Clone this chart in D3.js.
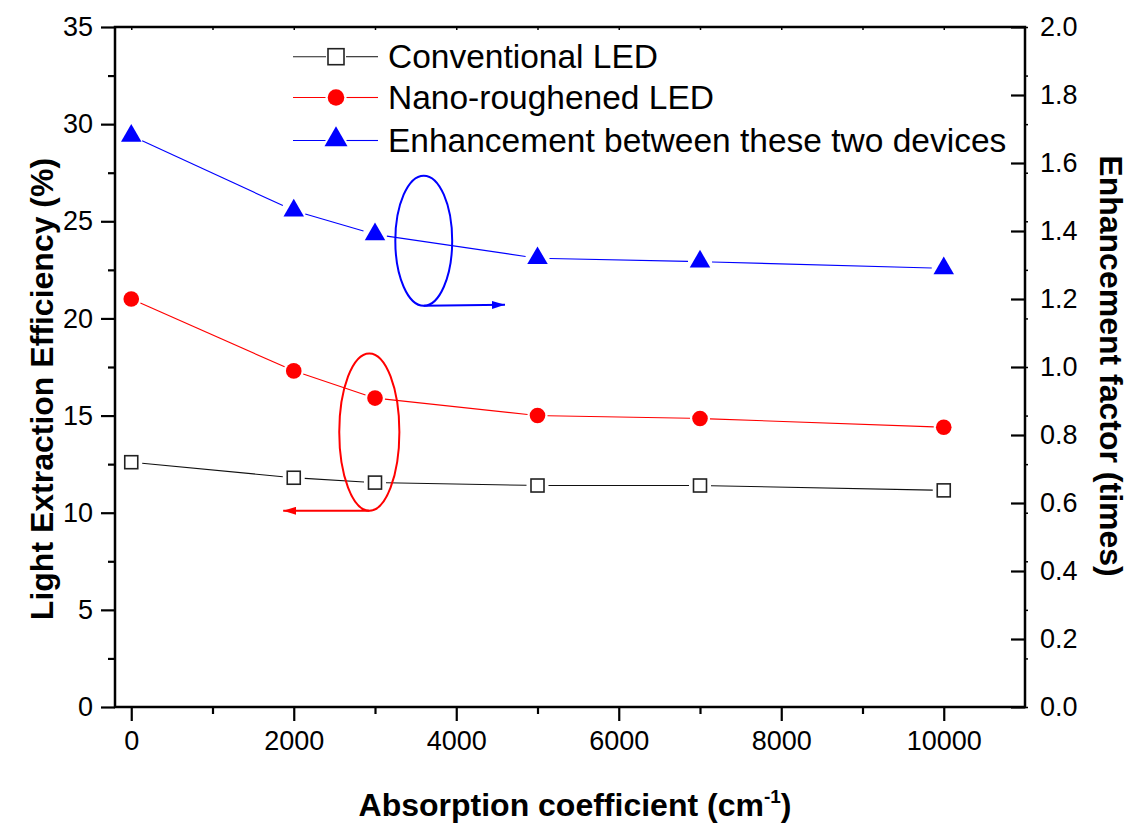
<!DOCTYPE html>
<html>
<head>
<meta charset="utf-8">
<script src="https://cdn.jsdelivr.net/npm/d3@7"></script>
<style>
  html, body { margin: 0; padding: 0; background: #fff; }
  svg { display: block; font-family: "Liberation Sans", Arial, sans-serif; }
</style>
</head>
<body>
<svg id="chart" width="1142" height="824"></svg>
<script>
// Absorption coefficient (cm^-1) sampled for both device types
const absorption = [0, 2000, 3000, 5000, 7000, 10000];
// Light extraction efficiency (%) — left axis
const conventional = [12.6, 11.8, 11.55, 11.4, 11.4, 11.15];
const nanoRoughened = [21.0, 17.3, 15.9, 15.0, 14.85, 14.4];
// Enhancement factor (times) — right axis
const enhancement = [1.68, 1.46, 1.39, 1.32, 1.31, 1.29];

// Axis ticks
const xMajorTicks = [0, 2000, 4000, 6000, 8000, 10000];
const xMinorTicks = [1000, 3000, 5000, 7000, 9000];
const leftMajorTicks = [0, 5, 10, 15, 20, 25, 30, 35];
const leftMinorTicks = [2.5, 7.5, 12.5, 17.5, 22.5, 27.5, 32.5];
const rightMajorTicks = [0, 0.2, 0.4, 0.6, 0.8, 1.0, 1.2, 1.4, 1.6, 1.8, 2.0];

const seriesNames = ["Conventional LED", "Nano-roughened LED", "Enhancement between these two devices"];

// Annotation ellipses (data units on x / left axis) and the arrows leaving them
const ellipseCx = [3600, 2930];
const ellipseCy = [24.0, 14.15];
const ellipseRx = [350, 370];
const ellipseRy = [3.35, 4.05];
const arrowToX = [4600, 1870];

const svg = d3.select("#chart");
const margin = { left: 115, right: 1025, top: 27, bottom: 707 };
const FONT = "'Liberation Sans', Arial, sans-serif";

const x = d3.scaleLinear().domain([-200, 11000]).range([margin.left, margin.right]);
const yL = d3.scaleLinear().domain([0, 35]).range([margin.bottom, margin.top]);
const yR = d3.scaleLinear().domain([0, 2.0]).range([margin.bottom, margin.top]);

const blue = "#0000ff", red = "#ff0000", black = "#000000";

// --- marker shapes ---
function triPath(w, h) {
  // centroid at origin
  const top = -h * 2 / 3, base = h / 3;
  return `M0,${top}L${w / 2},${base}L${-w / 2},${base}Z`;
}
function drawMarker(g, kind, cx, cy, big) {
  if (kind === "square") {
    const s = big ? 16 : 13;
    g.append("rect").attr("x", cx - s / 2).attr("y", cy - s / 2).attr("width", s).attr("height", s)
      .attr("fill", "#fff").attr("stroke", "#222").attr("stroke-width", 1.6);
  } else if (kind === "circle") {
    g.append("circle").attr("cx", cx).attr("cy", cy).attr("r", big ? 8.3 : 7.8).attr("fill", red);
  } else {
    g.append("path").attr("d", big ? triPath(23, 20) : triPath(20.5, 17.7))
      .attr("transform", `translate(${cx},${cy})`).attr("fill", blue);
  }
}

// --- series lines with small gaps around markers ---
function drawSeries(values, yScale, color, kind, gapR) {
  const g = svg.append("g");
  const pts = absorption.map((a, i) => [x(a), yScale(values[i])]);
  for (let i = 0; i < pts.length - 1; i++) {
    const [x1, y1] = pts[i], [x2, y2] = pts[i + 1];
    const dx = x2 - x1, dy = y2 - y1, L = Math.hypot(dx, dy);
    const ux = dx / L, uy = dy / L;
    g.append("line")
      .attr("x1", x1 + ux * gapR).attr("y1", y1 + uy * gapR)
      .attr("x2", x2 - ux * gapR).attr("y2", y2 - uy * gapR)
      .attr("stroke", color).attr("stroke-width", 1.1);
  }
  pts.forEach(p => drawMarker(g, kind, p[0], p[1], false));
}

drawSeries(conventional, yL, "#111", "square", 11);
drawSeries(nanoRoughened, yL, red, "circle", 10);
drawSeries(enhancement, yR, blue, "triangle", 12);

// --- annotation ellipses and arrows ---
const defs = svg.append("defs");
[blue, red].forEach((c, i) => {
  defs.append("marker").attr("id", "arr" + i)
    .attr("viewBox", "0 0 13 8").attr("refX", 13).attr("refY", 4)
    .attr("markerWidth", 13).attr("markerHeight", 8).attr("markerUnits", "userSpaceOnUse")
    .attr("orient", "auto")
    .append("path").attr("d", "M0,0L13,4L0,8Z").attr("fill", c);
});
[blue, red].forEach((c, i) => {
  const cx = x(ellipseCx[i]), cy = yL(ellipseCy[i]);
  const rx = x(ellipseCx[i] + ellipseRx[i]) - cx;
  const ry = yL(ellipseCy[i] - ellipseRy[i]) - cy;
  svg.append("ellipse").attr("cx", cx).attr("cy", cy).attr("rx", rx).attr("ry", ry)
    .attr("fill", "none").attr("stroke", c).attr("stroke-width", 2);
  svg.append("line").attr("x1", cx).attr("y1", cy + ry).attr("x2", x(arrowToX[i])).attr("y2", cy + ry - (i === 0 ? 1 : 0))
    .attr("stroke", c).attr("stroke-width", 2).attr("marker-end", `url(#arr${i})`);
});

// --- axes ---
const axisW = 2.5;
const axisG = svg.append("g");
// frame
axisG.append("rect").attr("x", margin.left).attr("y", margin.top)
  .attr("width", margin.right - margin.left).attr("height", margin.bottom - margin.top)
  .attr("fill", "none").attr("stroke", black).attr("stroke-width", axisW);

function styleTicks(g, withText) {
  g.select(".domain").remove();
  g.selectAll(".tick line").attr("stroke-width", 2.2).attr("stroke", black);
  if (withText) g.selectAll(".tick text").attr("font-size", 27).attr("font-family", FONT).attr("fill", black);
}

// bottom axis
const gx = svg.append("g").attr("transform", `translate(0,${margin.bottom})`)
  .call(d3.axisBottom(x).tickValues(xMajorTicks).tickSize(14).tickPadding(10).tickFormat(d3.format("d")));
styleTicks(gx, true);
const gxm = svg.append("g").attr("transform", `translate(0,${margin.bottom})`)
  .call(d3.axisBottom(x).tickValues(xMinorTicks).tickSize(7).tickFormat(""));
styleTicks(gxm, false);

// left axis
const gy = svg.append("g").attr("transform", `translate(${margin.left},0)`)
  .call(d3.axisLeft(yL).tickValues(leftMajorTicks).tickSize(14).tickPadding(8).tickFormat(d3.format("d")));
styleTicks(gy, true);
const gym = svg.append("g").attr("transform", `translate(${margin.left},0)`)
  .call(d3.axisLeft(yL).tickValues(leftMinorTicks).tickSize(7).tickFormat(""));
styleTicks(gym, false);

// right axis: inward major ticks, labels outside
const gr = svg.append("g").attr("transform", `translate(${margin.right},0)`)
  .call(d3.axisRight(yR).tickValues(rightMajorTicks).tickSize(-14).tickPadding(15).tickFormat(d3.format(".1f")));
styleTicks(gr, true);
// mirrored tiny marks of the left scale on the right edge
const grm = svg.append("g").attr("transform", `translate(${margin.right},0)`)
  .call(d3.axisRight(yL).tickValues(leftMajorTicks.concat(leftMinorTicks)).tickSize(3).tickFormat(""));
grm.select(".domain").remove();
grm.selectAll(".tick line").attr("stroke-width", 1.5);

// top edge: tiny mirrored marks of the bottom scale
const gt = svg.append("g").attr("transform", `translate(0,${margin.top})`)
  .call(d3.axisTop(x).tickValues(xMajorTicks.concat(xMinorTicks)).tickSize(-3).tickFormat(""));
gt.select(".domain").remove();
gt.selectAll(".tick line").attr("stroke-width", 1.5);

// --- axis titles ---
const xt = svg.append("text").attr("x", 575).attr("y", 816).attr("text-anchor", "middle")
  .attr("font-size", 32).attr("font-weight", "bold").attr("fill", black);
xt.append("tspan").text("Absorption coefficient (cm");
xt.append("tspan").attr("font-size", 19).attr("dy", -13).text("-1");
xt.append("tspan").attr("dy", 13).text(")");

svg.append("text").attr("transform", "translate(53,389) rotate(-90)").attr("text-anchor", "middle")
  .attr("font-size", 32).attr("font-weight", "bold").attr("fill", black)
  .text("Light Extraction Efficiency (%)");

svg.append("text").attr("transform", "translate(1100,366) rotate(90)").attr("text-anchor", "middle")
  .attr("font-size", 32).attr("font-weight", "bold").attr("fill", black)
  .text("Enhancement factor (times)");

// --- legend ---
const legendRows = [56.7, 97.5, 140.5];
const legendColors = ["#222", red, blue];
const legendKinds = ["square", "circle", "triangle"];
const leg = svg.append("g");
seriesNames.forEach((name, i) => {
  const yy = legendRows[i];
  const gap = i === 0 ? 10 : 10.5;
  leg.append("line").attr("x1", 293).attr("x2", 336 - gap).attr("y1", yy).attr("y2", yy)
    .attr("stroke", legendColors[i]).attr("stroke-width", 1.1);
  leg.append("line").attr("x1", 336 + gap).attr("x2", 378).attr("y1", yy).attr("y2", yy)
    .attr("stroke", legendColors[i]).attr("stroke-width", 1.1);
  drawMarker(leg, legendKinds[i], 336, i === 2 ? yy - 1 : yy, true);
  leg.append("text").attr("x", 388).attr("y", yy + 11).attr("font-size", 33.5).attr("fill", black).text(name);
});
</script>
</body>
</html>
